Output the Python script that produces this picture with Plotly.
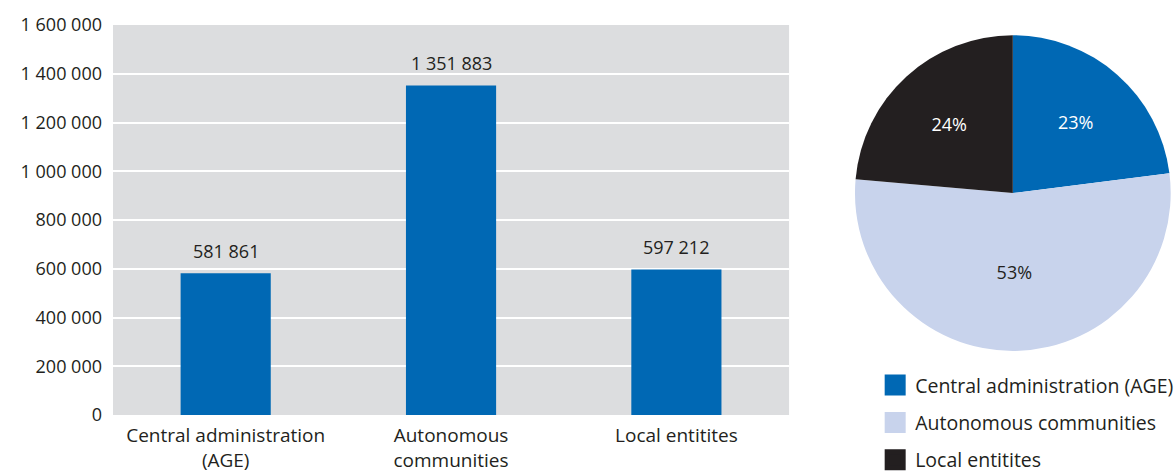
import plotly.graph_objects as go

categories = ["Central administration (AGE)", "Autonomous communities", "Local entitites"]
tick_labels = ["Central administration<br>(AGE)", "Autonomous<br>communities", "Local entitites"]
values = [581861, 1351883, 597212]
y_ticks = [0, 200000, 400000, 600000, 800000, 1000000, 1200000, 1400000, 1600000]

BLUE = "#0068b4"
LIGHT = "#c8d3ec"
DARK = "#231f20"
colors = [BLUE, LIGHT, DARK]
FONT = "Open Sans"

fig = go.Figure()

fig.add_trace(go.Bar(
    x=tick_labels, y=values, marker=dict(color=BLUE, line=dict(width=0)),
    width=0.4, showlegend=False, hoverinfo="skip",
))

for lbl, v in zip(tick_labels, values):
    fig.add_annotation(
        x=lbl, y=v, xref="x", yref="y", text=f"{v:,}".replace(",", " "),
        showarrow=False, yanchor="bottom", yshift=8,
        font=dict(family=FONT, size=18, color=DARK),
    )

fig.add_trace(go.Pie(
    labels=categories, values=values, sort=False, direction="clockwise",
    rotation=0, marker=dict(colors=colors, line=dict(width=0)),
    texttemplate="%{percent:.0%}", textposition="inside",
    insidetextorientation="horizontal",
    textfont=dict(family=FONT, size=18, color=["white", DARK, "white"]),
    domain=dict(x=[0.698, 0.995], y=[0.164, 0.974]),
    showlegend=False, hoverinfo="skip",
))

# legend entries
for i, (name, c) in enumerate(zip(categories, colors)):
    fig.add_trace(go.Scatter(
        x=[None], y=[None], mode="markers", name=name, legendgroup=f"g{i}",
        marker=dict(symbol="square", size=16, color=c, line=dict(color=c, width=5)),
        hoverinfo="skip",
    ))

fig.update_layout(
    width=1176, height=473,
    margin=dict(l=113, r=0, t=25, b=58, autoexpand=False),
    paper_bgcolor="white", plot_bgcolor="#dcdddf",
    separators=", ",
    font=dict(family=FONT, size=18, color=DARK),
    xaxis=dict(domain=[0, 0.636], showgrid=False, zeroline=False,
               automargin=False,
               tickfont=dict(family=FONT, size=19, color=DARK),
               ticklabelstandoff=7, fixedrange=True),
    yaxis=dict(range=[0, 1600000], tickvals=y_ticks, tickformat=",d",
               automargin=False,
               showgrid=True, gridcolor="white", gridwidth=1.5, zeroline=False,
               tickfont=dict(family=FONT, size=18, color=DARK),
               ticklabelstandoff=10, fixedrange=True),
    legend=dict(x=0.717, y=0.126, xanchor="left", yanchor="top",
                traceorder="grouped", tracegroupgap=9,
                font=dict(family=FONT, size=19.5, color=DARK),
                bgcolor="rgba(0,0,0,0)"),
    showlegend=True,
)

fig.write_html("out.html")
